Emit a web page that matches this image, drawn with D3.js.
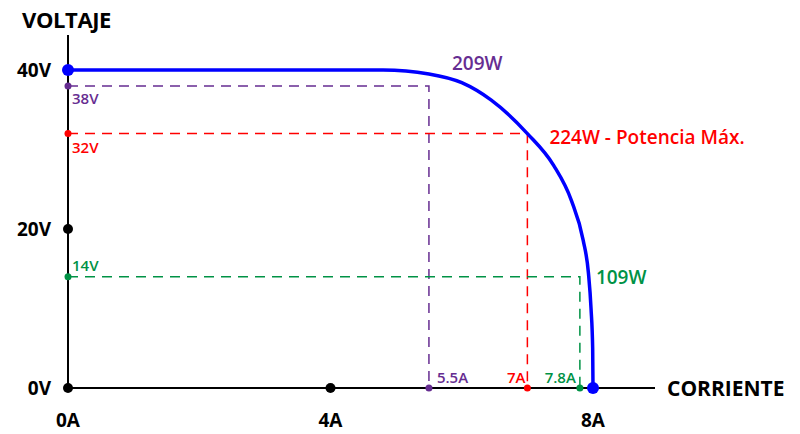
<!DOCTYPE html>
<html>
<head>
<meta charset="utf-8">
<script src="https://cdn.jsdelivr.net/npm/d3@7"></script>
<style>
  html, body { margin: 0; padding: 0; background: #fff; }
  svg { display: block; font-family: "Open Sans", "Noto Sans", sans-serif; }
</style>
</head>
<body>
<svg id="chart" width="800" height="434"></svg>
<script>
// ---- data ----
const xTickValues = [0, 4, 8];
const xTickLabels = ["0A", "4A", "8A"];
const yTickValues = [0, 20, 40];
const yTickLabels = ["0V", "20V", "40V"];

// I-V curve of the panel (current A, voltage V)
const curveCurrent = [0, 4.8, 5.5, 6.0, 6.45, 7.0, 7.4, 7.67, 7.85, 7.93, 7.97, 7.995, 8.0];
const curveVoltage = [40, 40, 39.5, 38.4, 36.2, 32, 28, 23.6, 18.6, 14.5, 10, 5, 0];

// operating points
const pointNames   = ["209W", "224W - Potencia Máx.", "109W"];
const pointCurrent = [5.5, 7, 7.8];
const pointVoltage = [38, 32, 14];
const pointILabels = ["5.5A", "7A", "7.8A"];
const pointVLabels = ["38V", "32V", "14V"];
const pointColors  = ["#662d91", "#ff0000", "#009245"];

// ---- scales ----
const x = d3.scaleLinear().domain([0, 8]).range([68, 593]);
const y = d3.scaleLinear().domain([0, 40]).range([388, 70]);

const svg = d3.select("#chart");

// axes lines
svg.append("line").attr("x1", x(0)).attr("x2", x(0)).attr("y1", 35).attr("y2", y(0))
  .attr("stroke", "#000").attr("stroke-width", 2);
svg.append("line").attr("x1", x(0)).attr("x2", 655).attr("y1", y(0)).attr("y2", y(0))
  .attr("stroke", "#000").attr("stroke-width", 2);

// axis titles
svg.append("text").attr("x", 22).attr("y", 28).text("VOLTAJE")
  .attr("font-size", 22).attr("font-weight", 700).attr("letter-spacing", -0.4).attr("fill", "#000");
svg.append("text").attr("x", 667).attr("y", 396).text("CORRIENTE")
  .attr("font-size", 21).attr("font-weight", 700).attr("fill", "#000");

// dashed guide lines
pointCurrent.forEach((c, i) => {
  const col = pointColors[i];
  svg.append("path")
    .attr("d", `M${x(0)},${y(pointVoltage[i])}H${x(c)}V${y(0)}`)
    .attr("fill", "none").attr("stroke", col).attr("stroke-width", 1.5)
    .attr("stroke-dasharray", "10,7");
});

// curve
const line = d3.line().x(d => x(d[0])).y(d => y(d[1])).curve(d3.curveMonotoneX);
svg.append("path")
  .datum(curveCurrent.map((c, i) => [c, curveVoltage[i]]))
  .attr("d", line).attr("fill", "none").attr("stroke", "#0000ff").attr("stroke-width", 3.5);

// tick labels & dots
yTickValues.forEach((v, i) => {
  svg.append("text").attr("x", 51).attr("y", y(v) + 7).attr("text-anchor", "end")
    .text(yTickLabels[i]).attr("font-size", 19).attr("font-weight", 700).attr("fill", "#000");
});
xTickValues.forEach((v, i) => {
  svg.append("text").attr("x", x(v)).attr("y", 427).attr("text-anchor", "middle")
    .text(xTickLabels[i]).attr("font-size", 19).attr("font-weight", 700).attr("fill", "#000");
});
svg.append("circle").attr("cx", x(0)).attr("cy", y(20)).attr("r", 5).attr("fill", "#000");
svg.append("circle").attr("cx", x(0)).attr("cy", y(0)).attr("r", 5).attr("fill", "#000");
svg.append("circle").attr("cx", x(4)).attr("cy", y(0)).attr("r", 5).attr("fill", "#000");

// point dots and labels
pointCurrent.forEach((c, i) => {
  const col = pointColors[i];
  svg.append("circle").attr("cx", x(0)).attr("cy", y(pointVoltage[i])).attr("r", 3.5).attr("fill", col);
  svg.append("circle").attr("cx", x(c)).attr("cy", y(0)).attr("r", 3.5).attr("fill", col);
});
// voltage labels
const vlabOffsets = [18, 19, -6];
pointVoltage.forEach((v, i) => {
  svg.append("text").attr("x", 72).attr("y", y(v) + vlabOffsets[i]).text(pointVLabels[i])
    .attr("font-size", 15).attr("font-weight", 600).attr("fill", pointColors[i]);
});
// current labels
const ilabAnchors = ["start", "end", "end"];
const ilabDx = [8, -2, -4];
pointCurrent.forEach((c, i) => {
  svg.append("text").attr("x", x(c) + ilabDx[i]).attr("y", 383).attr("text-anchor", ilabAnchors[i])
    .text(pointILabels[i]).attr("font-size", 15).attr("font-weight", 600).attr("fill", pointColors[i]);
});
// power labels
const nameDx = [23, 22, 16];
const nameDy = [-16, 10, 7];
pointCurrent.forEach((c, i) => {
  svg.append("text").attr("x", x(c) + nameDx[i]).attr("y", y(pointVoltage[i]) + nameDy[i])
    .text(pointNames[i]).attr("font-size", 19).attr("font-weight", 600).attr("fill", pointColors[i]);
});

// blue end dots
svg.append("circle").attr("cx", x(0)).attr("cy", y(40)).attr("r", 6).attr("fill", "#0000ff");
svg.append("circle").attr("cx", x(8)).attr("cy", y(0)).attr("r", 6).attr("fill", "#0000ff");
</script>
</body>
</html>
